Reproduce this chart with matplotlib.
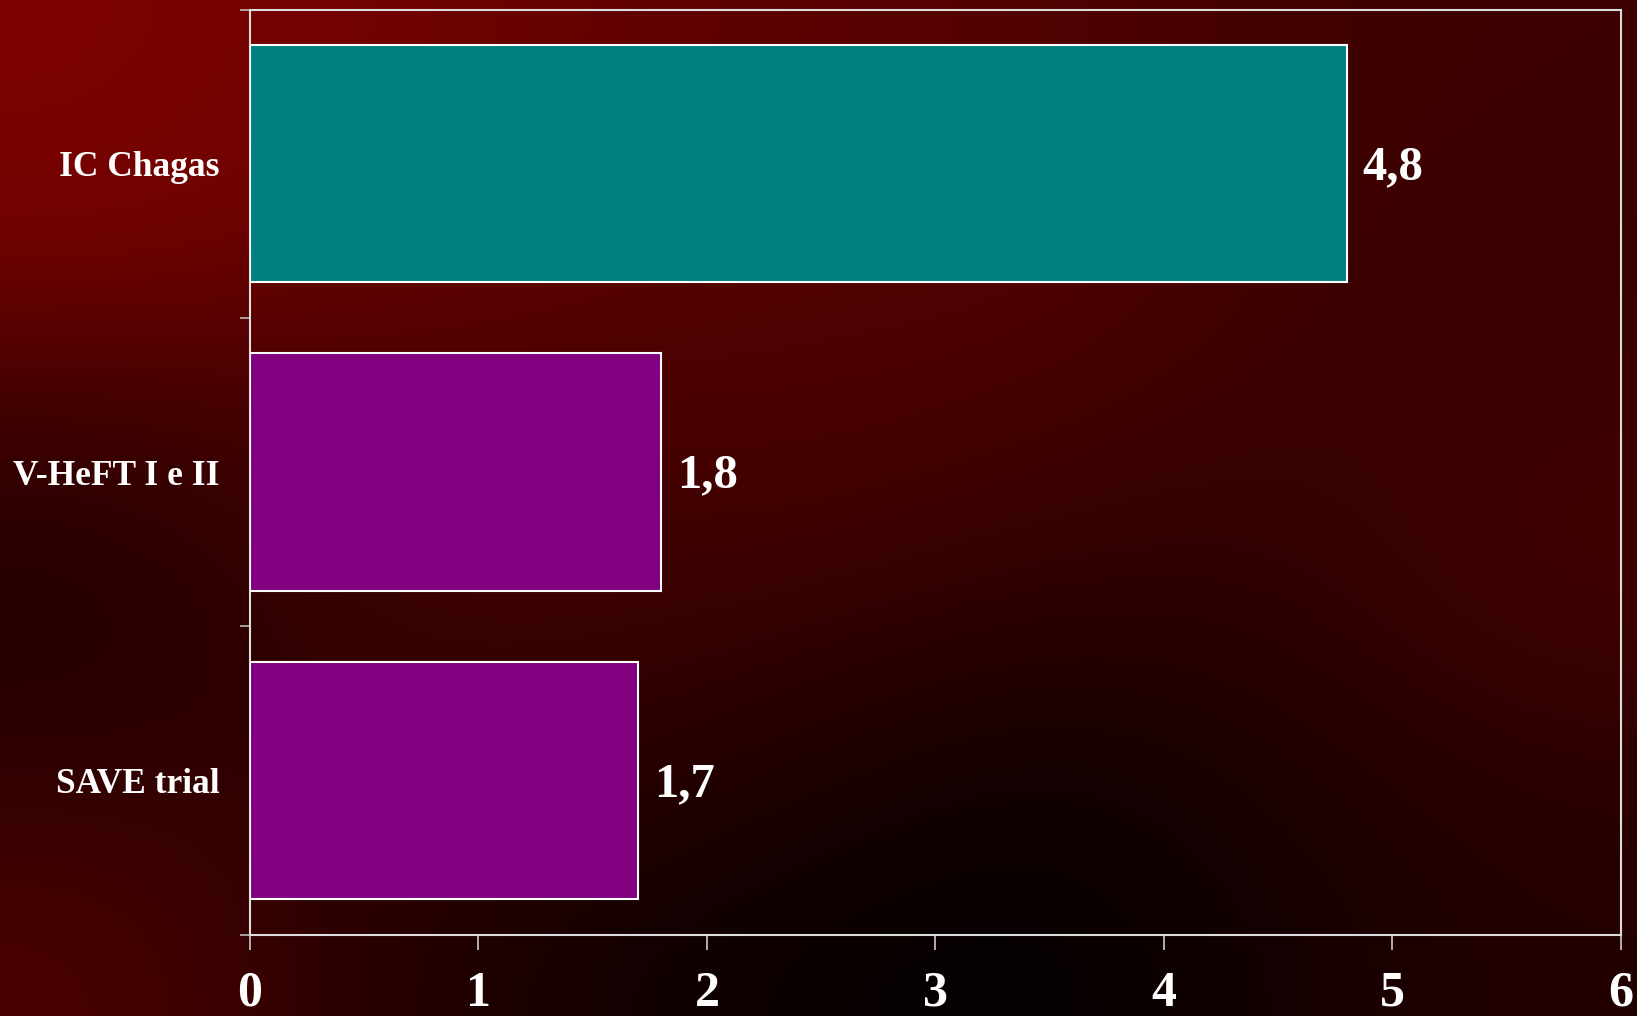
import numpy as np
import matplotlib.pyplot as plt
from matplotlib.ticker import FixedLocator

categories = ['IC Chagas', 'V-HeFT I e II', 'SAVE trial']
values = [4.8, 1.8, 1.7]
bar_colors = ['#008080', '#800080', '#800080']

# dark red backdrop, red channel on a coarse grid (rows top->bottom)
bg_red = np.array([
    [125, 115, 100, 90, 80, 65, 60],
    [115, 100, 90, 80, 85, 60, 55],
    [55, 70, 70, 75, 65, 55, 60],
    [35, 55, 60, 55, 45, 45, 65],
    [45, 50, 45, 30, 15, 30, 45],
    [75, 40, 20, 8, 3, 20, 35],
]) / 255.0

fig = plt.figure(figsize=(16.37, 10.16), dpi=100)

bg = fig.add_axes([0, 0, 1, 1], zorder=-1)
rgb = np.zeros(bg_red.shape + (3,))
rgb[..., 0] = bg_red
rgb[..., 1] = bg_red * 0.02
bg.imshow(rgb, aspect='auto', interpolation='bicubic', extent=[0, 1, 0, 1])
bg.set_axis_off()

ax = fig.add_axes([0.1527, 0.0802, 0.8375, 0.9104])
ax.patch.set_alpha(0)

ypos = np.arange(len(categories))
ax.barh(ypos, values, height=0.77, color=bar_colors,
        edgecolor='white', linewidth=1.5, zorder=3)

for y, v in zip(ypos, values):
    ax.text(v + 0.07, y + 0.012, f'{v:.1f}'.replace('.', ','),
            va='center', ha='left', color='white', fontsize=35,
            fontweight='bold', family='Liberation Serif')

ax.set_xlim(0, 6)
ax.set_ylim(2.5, -0.5)
ax.set_xticks(range(7))
ax.set_yticks(ypos)
ax.set_yticklabels(categories)
ax.yaxis.set_minor_locator(FixedLocator([-0.5, 0.5, 1.5, 2.5]))

for s in ax.spines.values():
    s.set_color('#dcdcdc')
    s.set_linewidth(1.5)

ax.tick_params(axis='y', which='major', length=0, pad=22)
ax.tick_params(axis='y', which='minor', length=7, width=1.2, color='#bbbbbb')
ax.tick_params(axis='x', length=11, width=1.2, color='#cccccc', pad=15)

for lab in ax.get_yticklabels():
    lab.set_family('Liberation Serif')
    lab.set_fontweight('bold')
    lab.set_fontsize(25.5)
    lab.set_color('white')
for lab in ax.get_xticklabels():
    lab.set_family('Liberation Serif')
    lab.set_fontweight('bold')
    lab.set_fontsize(36)
    lab.set_color('white')

fig.savefig('out.png', dpi=100)
